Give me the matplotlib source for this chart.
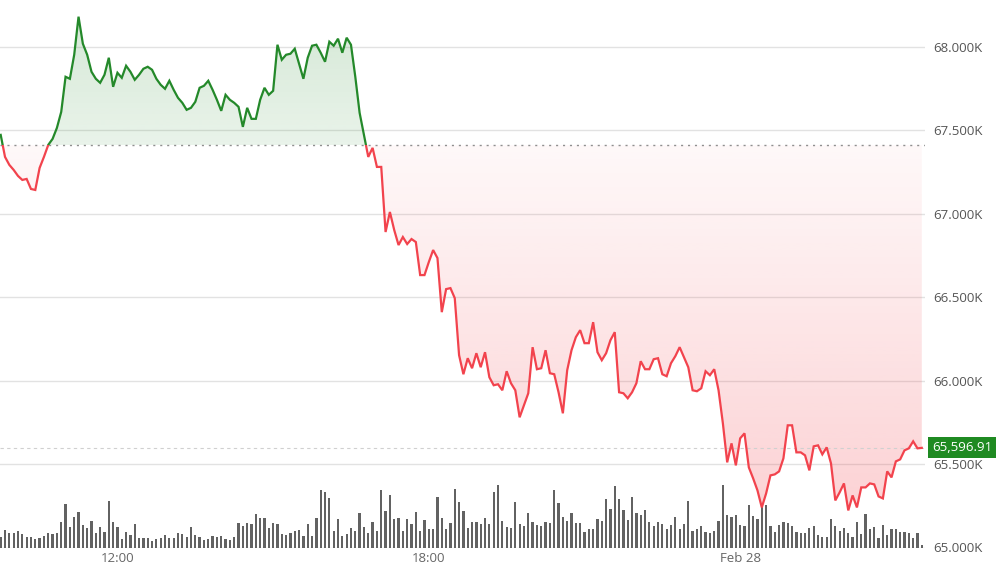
import numpy as np
import pandas as pd
import matplotlib
matplotlib.use("Agg")
import matplotlib.pyplot as plt
import matplotlib.dates as mdates
from matplotlib.colors import to_rgb
from matplotlib.patches import Rectangle
from matplotlib.path import Path

plt.rcParams['font.family'] = ['Open Sans', 'DejaVu Sans']

# 5 minute candles, starting 27 Feb 09:45
start_time = "2024-02-27 09:45"

price = [
    67472, 67340, 67292, 67262, 67226, 67202, 67208, 67148, 67142, 67274,
    67340, 67412, 67448, 67514, 67610, 67820, 67808, 67952, 68180, 68018,
    67952, 67850, 67808, 67784, 67832, 67934, 67760, 67844, 67814, 67886,
    67850, 67802, 67832, 67868, 67880, 67862, 67808, 67772, 67748, 67796,
    67742, 67694, 67664, 67622, 67634, 67670, 67754, 67766, 67796, 67742,
    67682, 67616, 67712, 67682, 67664, 67640, 67520, 67634, 67568, 67568,
    67682, 67754, 67712, 67736, 68012, 67922, 67952, 67958, 67988, 67898,
    67808, 67934, 68006, 68012, 67964, 67910, 68030, 68006, 68048, 67964,
    68054, 68012, 67820, 67604, 67472, 67340, 67394, 67280, 67280, 66890,
    67010, 66902, 66812, 66860, 66818, 66848, 66830, 66632, 66632, 66710,
    66782, 66734, 66410, 66548, 66554, 66494, 66152, 66038, 66134, 66074,
    66164, 66080, 66170, 66020, 65972, 65978, 65942, 66056, 65984, 65942,
    65780, 65852, 65924, 66200, 66068, 66074, 66182, 66044, 66038, 65930,
    65804, 66062, 66182, 66260, 66302, 66224, 66224, 66350, 66170, 66122,
    66164, 66242, 66290, 65930, 65924, 65894, 65930, 65984, 66116, 66068,
    66068, 66128, 66134, 66038, 66026, 66104, 66146, 66200, 66140, 66080,
    65942, 65936, 65954, 66056, 66032, 66068, 65942, 65744, 65510, 65624,
    65492, 65654, 65684, 65480, 65414, 65342, 65240, 65324, 65432, 65438,
    65456, 65534, 65732, 65732, 65570, 65570, 65552, 65462, 65606, 65612,
    65558, 65600, 65504, 65282, 65330, 65384, 65222, 65312, 65240, 65360,
    65360, 65384, 65378, 65306, 65294, 65456, 65420, 65516, 65528, 65582,
    65594, 65636, 65594, 65596.91,
]

volume = [
    32, 52, 42, 42, 50, 39, 32, 32, 24, 27, 35, 44, 41, 44, 75, 130, 62, 92, 107, 67,
    59, 79, 42, 62, 45, 139, 77, 60, 25, 45, 37, 70, 27, 27, 29, 20, 25, 27, 37, 27,
    27, 43, 39, 32, 62, 37, 30, 22, 25, 34, 30, 34, 25, 22, 32, 72, 65, 74, 69, 100,
    89, 87, 59, 72, 69, 39, 37, 44, 50, 52, 34, 69, 34, 89, 172, 165, 147, 49, 84, 35,
    39, 57, 50, 102, 62, 42, 77, 49, 172, 109, 157, 85, 87, 49, 84, 69, 105, 50, 82, 54,
    54, 152, 87, 55, 72, 174, 135, 110, 57, 75, 75, 69, 87, 70, 167,
    187, 80, 62, 59, 137, 70, 64, 104, 77, 67, 64, 77, 74, 172, 132, 90, 79, 102, 72, 72,
    47, 54, 56, 84, 80, 144, 114, 185, 144, 112, 82, 150, 102, 97, 112, 77, 64, 77, 69, 54,
    67, 92, 54, 70, 140, 50, 55, 64, 47, 42, 49, 80, 187, 97, 90, 97, 67, 64, 127, 94,
    84, 127, 127, 65, 47, 67, 77, 74, 64, 47, 42, 44, 57, 65, 37, 32, 32, 85, 64, 49,
    59, 42, 32, 75, 39, 100, 54, 62, 27, 67, 37, 54, 54, 47, 45, 42, 27, 44, 7,
]

open_price = 67410          # dotted reference line (period open)
last_price = 65596.91
last_label = "65,596.91"

y_ticks = [65000, 65500, 66000, 66500, 67000, 67500, 68000]
y_tick_labels = ["65.000K", "65.500K", "66.000K", "66.500K", "67.000K", "67.500K", "68.000K"]
x_tick_times = ["2024-02-27 12:00", "2024-02-27 18:00", "2024-02-28 00:00"]
x_tick_labels = ["12:00", "18:00", "Feb 28"]

green = "#24892a"
red = "#f2434d"
box_green = "#1f8a22"

times = pd.date_range(start_time, periods=len(price), freq="5min")
x = mdates.date2num(times)
y = np.array(price)
step = x[1] - x[0]


def gradient_fill(ax, x, y, base, color, above, a_near, a_far):
    # fill between line and base, alpha growing away from the base
    if above:
        poly = ax.fill_between(x, y, base, where=y >= base, interpolate=True, color="none")
        lo, hi = base, y.max()
        alphas = np.linspace(a_near, a_far, 256)
    else:
        poly = ax.fill_between(x, y, base, where=y <= base, interpolate=True, color="none")
        lo, hi = y.min(), base
        alphas = np.linspace(a_far, a_near, 256)
    img = np.zeros((256, 1, 4))
    img[:, 0, :3] = to_rgb(color)
    img[:, 0, 3] = alphas
    im = ax.imshow(img, extent=[x[0], x[-1], lo, hi], origin="lower",
                   aspect="auto", zorder=1, interpolation="bilinear")
    clip = Path.make_compound_path(*poly.get_paths())
    im.set_clip_path(clip, transform=ax.transData)


fig = plt.figure(figsize=(10, 5.7), dpi=100)
ax = fig.add_axes([0, 22.5 / 570, 925 / 1000, 547.5 / 570])

# fills
gradient_fill(ax, x, y, open_price, green, True, 0.10, 0.19)
gradient_fill(ax, x, y, open_price, red, False, 0.035, 0.24)

# volume bars along the bottom (axes fraction in y)
vol_top = max(volume) * 8.78
ax.bar(x, np.array(volume) / vol_top, width=step * 0.52, bottom=0,
       color="#626262", transform=ax.get_xaxis_transform(), zorder=2)

# price line, green above the open, red below
left = x[0] - step * 0.16
right = left + step * 213.9
green_line, = ax.plot(x, y, color=green, lw=1.6, zorder=4, solid_joinstyle="miter")
red_line, = ax.plot(x, y, color=red, lw=1.6, zorder=4, solid_joinstyle="miter")
green_line.set_clip_path(Rectangle((left, open_price), right - left, 5000, transform=ax.transData))
red_line.set_clip_path(Rectangle((left, open_price - 5000), right - left, 5000, transform=ax.transData))

# reference lines
ax.axhline(open_price, color="#8f8f8f", lw=1, ls=(0, (1.5, 3.5)), zorder=3)
ax.axhline(last_price, color="#d0d0d0", lw=0.8, ls=(0, (3, 3)), zorder=3)

# axes
ax.set_xlim(left, right)
ax.set_ylim(65000, 68280)
ax.set_yticks(y_ticks)
ax.set_yticklabels(y_tick_labels)
ax.set_xticks(mdates.date2num(pd.to_datetime(x_tick_times)))
ax.set_xticklabels(x_tick_labels)
ax.yaxis.tick_right()
ax.tick_params(axis="y", length=0, pad=6, labelsize=9.5, labelcolor="#555555")
ax.tick_params(axis="x", length=0, pad=3, labelsize=9.5, labelcolor="#666666")
ax.grid(axis="y", color="#e2e2e2", lw=1, zorder=0)
ax.grid(axis="x", visible=False)
ax.set_axisbelow(True)
for s in ax.spines.values():
    s.set_visible(False)

# last price tag
ax.annotate(last_label, xy=(1, last_price), xycoords=ax.get_yaxis_transform(),
            xytext=(5, 0), textcoords="offset points", ha="left", va="center",
            color="white", fontsize=9.5, zorder=10, annotation_clip=False,
            bbox=dict(boxstyle="square,pad=0.3", fc=box_green, ec="none"))

fig.savefig("out.png", dpi=100)
